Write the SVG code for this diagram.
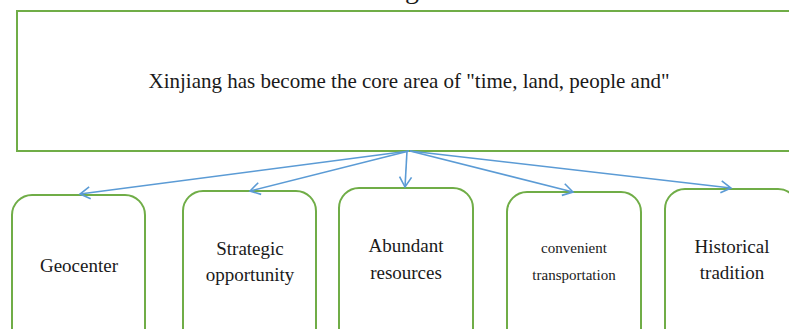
<svg xmlns="http://www.w3.org/2000/svg" width="789" height="329" viewBox="0 0 789 329">
<style>
.box{fill:#fff;stroke:#70AD47;stroke-width:2}
.lbl{font-family:"Liberation Serif","Times New Roman",serif;fill:#1a1a1a;text-anchor:middle}
.edge{fill:none;stroke:#5B9BD5;stroke-width:1.6}
</style>
<defs>
<marker id="arr" viewBox="-12 -8 14 16" markerWidth="14" markerHeight="16" refX="0" refY="0" orient="auto" markerUnits="userSpaceOnUse">
<path d="M -10 -6 L 0 0 L -10 6" fill="none" stroke="#5B9BD5" stroke-width="1.6"/>
</marker>
</defs>
<rect width="789" height="329" fill="#fff"/>
<text class="lbl" x="412" y="-2" font-size="28">g</text>
<g id="core">
<rect class="box" x="17" y="11" width="800" height="140"/>
<text class="lbl" x="409" y="88" font-size="21">Xinjiang has become the core area of "time, land, people and"</text>
</g>
<g id="geocenter">
<rect class="box" x="12" y="195" width="133" height="160" rx="20"/>
<text class="lbl" x="79" y="272" font-size="19">Geocenter</text>
</g>
<g id="strategic">
<rect class="box" x="183" y="191" width="133" height="160" rx="20"/>
<text class="lbl" x="250" y="255" font-size="19">Strategic</text>
<text class="lbl" x="250" y="281" font-size="19">opportunity</text>
</g>
<g id="abundant">
<rect class="box" x="339" y="188" width="134" height="160" rx="20"/>
<text class="lbl" x="406" y="252" font-size="19">Abundant</text>
<text class="lbl" x="406" y="279" font-size="19">resources</text>
</g>
<g id="convenient">
<rect class="box" x="507" y="192" width="134" height="160" rx="20"/>
<text class="lbl" x="574" y="253" font-size="15">convenient</text>
<text class="lbl" x="574" y="280" font-size="15">transportation</text>
</g>
<g id="historical">
<rect class="box" x="665" y="189" width="133" height="160" rx="20"/>
<text class="lbl" x="732" y="253" font-size="19">Historical</text>
<text class="lbl" x="732" y="279" font-size="19">tradition</text>
</g>
<g id="connectors">
<line class="edge" x1="409" y1="151" x2="80" y2="194" marker-end="url(#arr)"/>
<line class="edge" x1="409" y1="151" x2="250" y2="191" marker-end="url(#arr)"/>
<line class="edge" x1="407" y1="151" x2="405" y2="187" marker-end="url(#arr)"/>
<line class="edge" x1="410" y1="151" x2="573" y2="192" marker-end="url(#arr)"/>
<line class="edge" x1="410" y1="151" x2="731" y2="188" marker-end="url(#arr)"/>
</g>
</svg>
